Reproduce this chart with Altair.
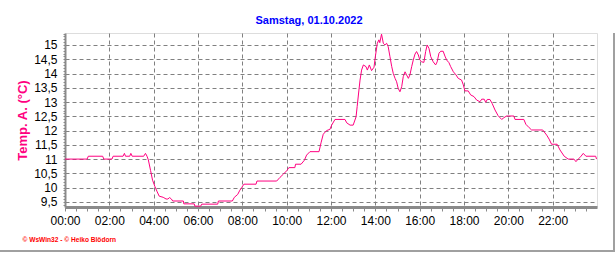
import altair as alt
import pandas as pd

# time of day in hours, temperature in °C
hours = [0.0, 1.0, 1.05, 1.7, 1.75, 2.12, 2.17, 2.62, 2.68, 2.73, 2.92, 2.97, 3.03, 3.55, 3.63, 3.7,
         3.76, 3.86, 3.95, 4.06, 4.16, 4.25, 4.43, 4.56, 4.64, 4.72, 4.8, 4.86, 5.34, 5.36, 5.83, 5.86,
         6.12, 6.17, 6.89, 6.92, 7.55, 7.64, 7.79, 7.89, 7.97, 8.07, 8.62, 8.66, 9.55, 9.7, 9.85, 10.0,
         10.1, 10.37, 10.4, 10.65, 10.8, 10.9, 11.05, 11.46, 11.55, 11.65, 11.8, 11.95, 12.03, 12.18,
         12.63, 12.71, 12.86, 13.0, 13.13, 13.18, 13.26, 13.31, 13.38, 13.46, 13.58, 13.64, 13.73, 13.83,
         13.94, 14.0, 14.09, 14.16, 14.2, 14.28, 14.36, 14.43, 14.51, 14.58, 14.66, 14.74, 14.81, 14.89,
         14.96, 15.03, 15.11, 15.19, 15.26, 15.34, 15.41, 15.49, 15.56, 15.64, 15.71, 15.79, 15.86, 15.94,
         16.01, 16.09, 16.19, 16.27, 16.34, 16.42, 16.5, 16.61, 16.72, 16.79, 16.87, 16.95, 17.06, 17.14,
         17.22, 17.32, 17.4, 17.52, 17.64, 17.74, 17.89, 17.97, 18.04, 18.19, 18.3, 18.45, 18.57, 18.72,
         18.8, 18.91, 18.98, 19.05, 19.17, 19.27, 19.4, 19.54, 19.7, 19.8, 19.92, 20.25, 20.3, 20.7,
         20.79, 20.94, 21.05, 21.55, 21.73, 21.84, 21.95, 22.2, 22.33, 22.52, 22.7, 22.96, 23.05, 23.15,
         23.26, 23.38, 23.5, 23.94, 23.98]
temps = [11.0, 11.0, 11.1, 11.1, 11.0, 11.0, 11.1, 11.1, 11.2, 11.1, 11.1, 11.2, 11.1, 11.1, 11.2, 11.1,
         10.97, 10.6, 10.26, 10.03, 9.85, 9.7, 9.66, 9.6, 9.6, 9.65, 9.6, 9.53, 9.53, 9.43, 9.43, 9.35,
         9.35, 9.42, 9.42, 9.53, 9.53, 9.66, 9.76, 9.91, 10.0, 10.12, 10.12, 10.23, 10.23, 10.36, 10.47, 10.59,
         10.7, 10.7, 10.82, 10.82, 10.96, 11.14, 11.26, 11.26, 11.57, 11.87, 12.0, 12.04, 12.19, 12.39,
         12.39, 12.27, 12.19, 12.19, 12.48, 12.84, 13.42, 13.77, 14.12, 14.3, 14.24, 14.12, 14.3, 14.1,
         14.22, 14.59, 15.06, 15.18, 15.08, 15.38, 15.06, 15.0, 15.06, 14.94, 14.59, 14.24, 14.0, 13.83,
         13.71, 13.48, 13.36, 13.54, 13.89, 14.06, 13.95, 13.83, 13.95, 14.24, 14.47, 14.68, 14.77, 14.65,
         14.47, 14.41, 14.39, 14.77, 15.0, 14.88, 14.59, 14.41, 14.3, 14.41, 14.71, 14.78, 14.78, 14.61,
         14.47, 14.38, 14.24, 14.06, 13.95, 13.83, 13.77, 13.6, 13.39, 13.39, 13.25, 13.19, 13.07, 13.01,
         13.1, 13.1, 12.99, 13.09, 13.09, 12.95, 12.72, 12.52, 12.39, 12.45, 12.51, 12.51, 12.39, 12.39,
         12.22, 12.1, 12.02, 12.02, 11.84, 11.7, 11.52, 11.52, 11.32, 11.1, 11.0, 11.0, 10.91, 11.0,
         11.08, 11.2, 11.1, 11.1, 11.0]

x_ticks = [i * 0.5 for i in range(48)]            # every 30 minutes, labels every 2 h
y_ticks = [round(9.4 + 0.1 * i, 1) for i in range(61)]  # every 0.1 °C, labels every 0.5

title_text = "Samstag, 01.10.2022"
y_title = "Temp. A. (°C)"
footer = "© WsWin32 - © Heiko Blödorn"

df = pd.DataFrame({"h": hours, "t": temps})

FONT = "Liberation Sans"
GRID = "#808080"

x_axis = alt.Axis(
    values=x_ticks,
    labelExpr="datum.value % 2 === 0 ? (datum.value < 10 ? '0' : '') + datum.value + ':00' : ''",
    labelOverlap=False, labelFlush=False,
    labelFont=FONT, labelFontSize=12, labelColor="black", labelPadding=4,
    grid=True, gridColor=GRID, gridDash=[4, 3], gridWidth=1,
    gridOpacity={"condition": {"test": "datum.value % 2 === 0 && datum.value > 0", "value": 1}, "value": 0},
    domainColor="#8a8a8a", domainWidth=3,
    tickColor="#8a8a8a", tickSize=4, tickWidth=1,
    title=footer, titleColor="#ff0000", titleFont=FONT, titleFontSize=6.6,
    titleFontWeight="bold", titleAnchor="start", titleAlign="left",
    titleX=-43, titleY=32, titleBaseline="middle",
)

y_axis = alt.Axis(
    values=y_ticks,
    labelExpr="(abs(datum.value*2 - round(datum.value*2)) < 0.001 && datum.value >= 9.5 && datum.value <= 15) ? replace(format(datum.value, ''), '.', ',') : ''",
    labelOverlap=False, labelFlush=False,
    labelFont=FONT, labelFontSize=12, labelColor="black", labelPadding=6,
    grid=True, gridColor=GRID, gridDash=[4, 3], gridWidth=1,
    gridOpacity={"condition": {"test": "abs(datum.value*2 - round(datum.value*2)) < 0.001 && datum.value >= 9.5 && datum.value <= 15", "value": 1}, "value": 0},
    domainColor="#8a8a8a", domainWidth=2,
    tickColor="#8a8a8a", tickSize=2, tickWidth=1,
    title=y_title, titleColor="#ff0080", titleFont=FONT, titleFontSize=13,
    titleFontWeight="bold", titlePadding=4,
)

line = alt.Chart(df).mark_line(color="#ff0080", strokeWidth=1, interpolate="linear").encode(
    x=alt.X("h:Q", scale=alt.Scale(domain=[0, 24], nice=False, zero=False), axis=x_axis),
    y=alt.Y("t:Q", scale=alt.Scale(domain=[9.32, 15.42], nice=False, zero=False), axis=y_axis),
)

# window frame lines (decoration at the right and bottom edges)
frame_r = alt.Chart(df.head(1)).mark_rule(color="#a0a0a0", strokeWidth=2, clip=False).encode(
    x=alt.value(549), y=alt.value(0), y2=alt.value(219))
frame_b = alt.Chart(df.head(1)).mark_rule(color="#a0a0a0", strokeWidth=2, clip=False).encode(
    x=alt.value(-65), x2=alt.value(550), y=alt.value(218))

chart = alt.layer(line, frame_r, frame_b).properties(
    width=532, height=174,
    title=alt.TitleParams(title_text, color="#0000ff", font=FONT, fontSize=11,
                          fontWeight="bold", anchor="middle", offset=2, dx=-22),
    autosize=alt.AutoSizeParams(type="none"),
    padding={"left": 65, "top": 33, "right": 19, "bottom": 46},
).configure_view(stroke="black", strokeWidth=1.5).configure(background="white")

chart.save("out.html", embed_options={"renderer": "svg", "actions": False})
